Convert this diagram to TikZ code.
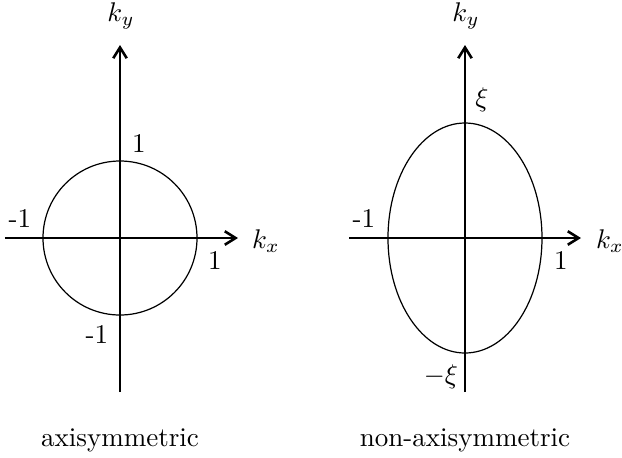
\documentclass[tikz,border=0pt]{standalone}
\usetikzlibrary{arrows.meta}
\begin{document}
\begin{tikzpicture}[x=0.37pt,y=-0.37pt,
  axis/.style={line width=0.95pt,-{Straight Barb[length=4pt,width=5pt]}},
  curve/.style={line width=0.45pt},
  lbl/.style={inner sep=0pt,anchor=center}]
\useasboundingbox (0,0) rectangle (622,457);
% left diagram
\coordinate (L0) at (120,238);
\coordinate (Lw) at (5,238);
\coordinate (Le) at (238,238);
\coordinate (Ls) at (120,392);
\coordinate (Ln) at (120,45);
\draw[axis] (Lw) -- (Le);
\draw[axis] (Ls) -- (Ln);
\draw[curve] (L0) circle[radius=77];
\node[lbl] (Lky) at (121,16) {$k_y$};
\node[lbl] (Lkx) at (266,241) {$k_x$};
\node[lbl] (Lt) at (139,143) {1};
\node[lbl] (Ll) at (20,218) {-1};
\node[lbl] (Lr) at (215,260) {1};
\node[lbl] (Lb) at (97,334) {-1};
\node[lbl] (Lcap) at (120,440) {axisymmetric};
% right diagram
\coordinate (R0) at (465,238);
\coordinate (Rw) at (349,238);
\coordinate (Re) at (581,238);
\coordinate (Rs) at (465,392);
\coordinate (Rn) at (465,45);
\draw[axis] (Rw) -- (Re);
\draw[axis] (Rs) -- (Rn);
\draw[curve] (R0) ellipse[x radius=77,y radius=115];
\node[lbl] (Rky) at (466,16) {$k_y$};
\node[lbl] (Rkx) at (610,241) {$k_x$};
\node[lbl] (Rt) at (482,100) {$\xi$};
\node[lbl] (Rl) at (364,218) {-1};
\node[lbl] (Rr) at (561,260) {1};
\node[lbl] (Rb) at (441,377) {$-\xi$};
\node[lbl] (Rcap) at (465,440) {non-axisymmetric};
\end{tikzpicture}
\end{document}
